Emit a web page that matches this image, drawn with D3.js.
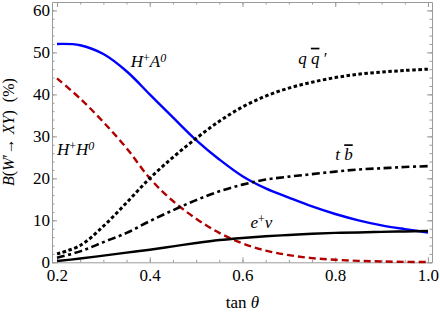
<!DOCTYPE html>
<html>
<head>
<meta charset="utf-8">
<script src="https://cdn.jsdelivr.net/npm/d3@7"></script>
<style>
body { margin: 0; background: #fff; }
#vis { width: 440px; height: 317px; }
.axis path, .axis line { stroke: #9a9a9a; }
</style>
</head>
<body>
<div id="vis"></div>
<script>
var tanTheta = [0.2, 0.25, 0.3, 0.35, 0.4, 0.45, 0.5, 0.55, 0.6, 0.65, 0.7, 0.75, 0.8, 0.85, 0.9, 0.95, 1.0];
var hA = [52.0, 51.7, 49.6, 45.5, 40.0, 34.5, 29.1, 24.5, 20.5, 17.6, 15.4, 13.3, 11.5, 10.0, 8.8, 7.9, 7.1];
var hH = [43.8, 39.0, 33.4, 27.2, 20.0, 14.6, 10.4, 7.0, 4.5, 2.8, 1.7, 1.0, 0.6, 0.35, 0.2, 0.1, 0.05];
var qq = [2.0, 4.0, 8.6, 14.2, 20.0, 25.0, 29.5, 33.6, 37.0, 39.6, 41.5, 42.9, 44.0, 44.8, 45.3, 45.7, 46.0];
var tb = [1.1, 2.6, 4.8, 7.0, 9.8, 12.4, 14.8, 16.9, 18.5, 19.7, 20.4, 21.0, 21.6, 22.1, 22.4, 22.7, 22.9];
var ev = [0.3, 0.9, 1.6, 2.3, 3.0, 3.8, 4.6, 5.3, 5.8, 6.2, 6.5, 6.8, 7.0, 7.1, 7.25, 7.35, 7.45];
var xTicks = [0.2, 0.4, 0.6, 0.8, 1.0];
var yTicks = [0, 10, 20, 30, 40, 50, 60];

var FONT = '"Liberation Serif", "DejaVu Serif", "Times New Roman", serif';

var width = document.getElementById('vis').clientWidth;
var height = document.getElementById('vis').clientHeight;
var margin = { top: 2, bottom: 54.7, left: 52, right: 8 };

var svg = d3.select('#vis')
    .append('svg')
    .attr('width', width)
    .attr('height', height)
    .append('g')
    .attr('transform', 'translate(' + margin.left + ',' + margin.top + ')');

width = width - margin.left - margin.right;
height = height - margin.top - margin.bottom;

var x_scale = d3.scaleLinear()
    .domain([0.18922, 1.00863])
    .range([0, width]);

var y_scale = d3.scaleLinear()
    .domain([0, 62])
    .range([height, 0]);

// minor ticks first, then major ones on top
var xMinor = d3.range(0.2, 1.0001, 0.05);
var yMinor = d3.range(0, 62, 2);

function minorAxis(axis, scale, vals, tr) {
    svg.append('g')
        .attr('class', 'axis')
        .attr('transform', tr)
        .call(axis(scale).tickValues(vals).tickSize(-2.5).tickFormat(''))
        .select('.domain').remove();
}
minorAxis(d3.axisBottom, x_scale, xMinor, 'translate(0,' + height + ')');
minorAxis(d3.axisTop, x_scale, xMinor, 'translate(0,0)');
minorAxis(d3.axisLeft, y_scale, yMinor, 'translate(0,0)');
minorAxis(d3.axisRight, y_scale, yMinor, 'translate(' + width + ',0)');

svg.append('g')
    .attr('class', 'x axis')
    .attr('transform', 'translate(0,' + height + ')')
    .call(d3.axisBottom(x_scale).tickValues(xTicks).tickSize(-5).tickSizeOuter(0).tickPadding(7)
        .tickFormat(d3.format('.1f')));

svg.append('g')
    .attr('class', 'axis')
    .call(d3.axisTop(x_scale).tickValues(xTicks).tickSize(-5).tickSizeOuter(0).tickFormat(''));

svg.append('g')
    .attr('class', 'y axis')
    .call(d3.axisLeft(y_scale).tickValues(yTicks).tickSize(-5).tickSizeOuter(0).tickPadding(2));

svg.append('g')
    .attr('class', 'axis')
    .attr('transform', 'translate(' + width + ',0)')
    .call(d3.axisRight(y_scale).tickValues(yTicks).tickSize(-5).tickSizeOuter(0).tickFormat(''));

svg.selectAll('.axis')
    .attr('font-family', FONT)
    .attr('font-size', 17);
svg.selectAll('.axis text').attr('fill', '#000');
svg.selectAll('.y.axis text').attr('dy', '0.3em');

var line = d3.line()
    .x(function(d) { return x_scale(d[0]); })
    .y(function(d) { return y_scale(d[1]); })
    .curve(d3.curveCatmullRom.alpha(0.5));

var series = [
    { v: hA, color: '#0000ff', dash: null, w: 2.4 },
    { v: hH, color: '#b00000', dash: '7,4', w: 2.4 },
    { v: qq, color: '#000', dash: '3.5,2.5', w: 3 },
    { v: tb, color: '#000', dash: '8,3.5,3,3.5', w: 2.6 },
    { v: ev, color: '#000', dash: null, w: 2.4 }
];

svg.selectAll('.line')
    .data(series)
    .enter()
    .append('path')
    .attr('class', 'line')
    .attr('fill', 'none')
    .attr('stroke', function(d) { return d.color; })
    .attr('stroke-width', function(d) { return d.w; })
    .attr('stroke-dasharray', function(d) { return d.dash; })
    .attr('d', function(d) {
        return line(tanTheta.map(function(t, i) { return [t, d.v[i]]; }));
    });

// curve labels, positioned in data units
function label(tx, val, parts) {
    var t = svg.append('text')
        .attr('font-family', FONT)
        .attr('font-size', 17)
        .attr('font-style', 'italic')
        .attr('x', x_scale(tx))
        .attr('y', y_scale(val));
    parts.forEach(function(p) {
        var s = t.append('tspan').text(p.t);
        if (p.sup) s.attr('baseline-shift', '38%').attr('font-size', 12);
        if (p.up) s.attr('font-style', 'normal');
        if (p.over) s.attr('text-decoration', 'overline');
    });
}
label(0.359, 46.5, [{ t: 'H' }, { t: '+', sup: 1, up: 1 }, { t: 'A' }, { t: '0', sup: 1 }]);
label(0.2, 25.5, [{ t: 'H' }, { t: '+', sup: 1, up: 1 }, { t: 'H' }, { t: '0', sup: 1 }]);
label(0.72, 47.3, [{ t: 'q ' }, { t: 'q', over: 1 }, { t: ' \u2032', up: 1 }]);
label(0.8, 24.3, [{ t: 't ' }, { t: 'b', over: 1 }]);
label(0.617, 8.2, [{ t: 'e' }, { t: '+', sup: 1, up: 1 }, { t: '\u03bd' }]);

// axis titles
var yt = svg.append('text')
    .attr('font-family', FONT)
    .attr('font-size', 16)
    .attr('text-anchor', 'middle')
    .attr('transform', 'translate(' + (-38) + ',' + (height / 2) + ') rotate(-90)');
yt.append('tspan').attr('font-style', 'italic').text('B');
yt.append('tspan').text('(');
yt.append('tspan').attr('font-style', 'italic').text('W');
yt.append('tspan').text('\u2032\u2192 ');
yt.append('tspan').attr('font-style', 'italic').text('XY');
yt.append('tspan').text(')\u00a0\u00a0(%)');

var xt = svg.append('text')
    .attr('font-family', FONT)
    .attr('font-size', 17)
    .attr('text-anchor', 'middle')
    .attr('x', x_scale(0.6))
    .attr('y', height + 46);
xt.append('tspan').text('tan ');
xt.append('tspan').attr('font-style', 'italic').text('\u03b8');
</script>
</body>
</html>
